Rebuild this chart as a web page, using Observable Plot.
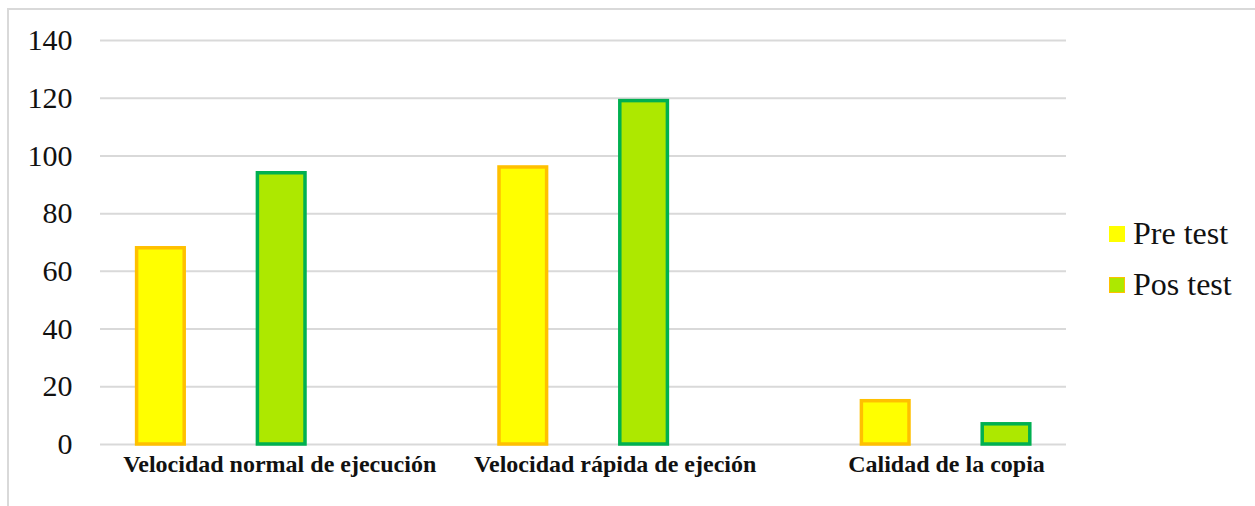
<!DOCTYPE html>
<html>
<head>
<meta charset="utf-8">
<script src="https://cdn.jsdelivr.net/npm/d3@7"></script>
<script src="https://cdn.jsdelivr.net/npm/@observablehq/plot@0.6"></script>
<style>
  html, body { margin: 0; padding: 0; background: #fff; }
  #wrap { position: relative; width: 1255px; height: 506px; overflow: hidden; font-family: "Times New Roman", "Liberation Serif", "DejaVu Serif", serif; }
  #frame { position: absolute; left: 7px; top: 8px; width: 1300px; height: 600px; border-top: 2px solid #d9d9d9; border-left: 2px solid #d9d9d9; box-sizing: border-box; }
  #legend { position: absolute; left: 1109px; top: 208px; font-size: 32px; color: #111; }
  .item { display: flex; align-items: center; height: 51px; }
  .sw { width: 16px; height: 16px; margin-right: 8px; box-sizing: border-box; flex: none; }
  #chart { position: absolute; left: 0; top: 0; }
</style>
</head>
<body>
<div id="wrap">
  <div id="frame"></div>
  <div id="chart"></div>
  <div id="legend"></div>
</div>
<script>
const categories = ["Velocidad normal de ejecución", "Velocidad rápida de ejeción", "Calidad de la copia"];
const seriesNames = ["Pre test", "Pos test"];
const preTest = [68, 96, 15];
const posTest = [94, 119, 7];
const yTicks = [0, 20, 40, 60, 80, 100, 120, 140];

// styles
const preFill = "#ffff00", preStroke = "#ffc000";
const posFill = "#ade800", posStroke = "#00b050";
const font = "'Times New Roman', 'Liberation Serif', 'DejaVu Serif', serif";
const labelDx = [-2, -29, -60]; // layout tweak for category label placement

// each category occupies three slots: Pre test, Pos test, (empty)
const slots = categories.flatMap(c => [c + "|" + seriesNames[0], c + "|" + seriesNames[1], c + "|"]);
const preData = categories.map((c, i) => ({slot: c + "|" + seriesNames[0], value: preTest[i]}));
const posData = categories.map((c, i) => ({slot: c + "|" + seriesNames[1], value: posTest[i]}));

const step = 120.8, left = 100;
const chart = Plot.plot({
  width: 1255,
  height: 506,
  marginLeft: 100,
  marginRight: 189,
  marginTop: 40,
  marginBottom: 62,
  style: {fontFamily: font, color: "#111", background: "transparent"},
  x: {type: "band", domain: slots, range: [left, left + step * slots.length], padding: 0, round: false, axis: null},
  y: {domain: [0, 140]},
  marks: [
    Plot.ruleY(yTicks, {stroke: "#d9d9d9", strokeWidth: 2}),
    Plot.axisY(yTicks, {tickSize: 0, tickPadding: 28, fontSize: 30, fontFamily: font, label: null}),
    Plot.barY(preData, {x: "slot", y: "value", fill: preFill, stroke: preStroke, strokeWidth: 3.5, insetLeft: 36.6, insetRight: 36.6}),
    Plot.barY(posData, {x: "slot", y: "value", fill: posFill, stroke: posStroke, strokeWidth: 3.5, insetLeft: 36.6, insetRight: 36.6}),
    ...categories.map((c, i) => Plot.text([c], {
      x: d => d + "|" + seriesNames[1], y: () => 0, text: d => d,
      dy: 20, dx: labelDx[i], fontSize: 24, fontWeight: "bold", fontFamily: font, fill: "#111", textAnchor: "middle"
    }))
  ]
});
document.getElementById("chart").appendChild(chart);

const legend = document.getElementById("legend");
const swatchStyles = [
  {background: preFill, border: "none"},
  {background: posFill, border: "1.5px solid " + preStroke}
];
seriesNames.forEach((s, i) => {
  const item = document.createElement("div");
  item.className = "item";
  const sw = document.createElement("span");
  sw.className = "sw";
  sw.style.background = swatchStyles[i].background;
  sw.style.border = swatchStyles[i].border;
  const t = document.createElement("span");
  t.textContent = s;
  item.appendChild(sw);
  item.appendChild(t);
  legend.appendChild(item);
});
</script>
</body>
</html>
